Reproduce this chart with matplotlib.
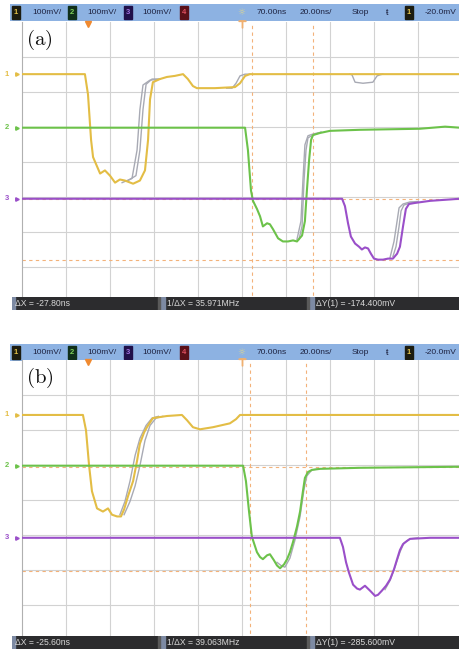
import matplotlib.pyplot as plt
from matplotlib.patches import Rectangle

plt.rcParams['mathtext.fontset'] = 'cm'
plt.rcParams['font.family'] = ['Liberation Sans', 'DejaVu Sans']

W, H = 460, 657

# time axis: ns from left screen edge (20 ns/div); level: mV (100 mV/div)
# ---------------- panel (a) ----------------
a_ch1_t = [0, 28.6, 30.0, 31.4, 32.3, 35.5, 37.7, 40.0, 42.3, 44.5, 46.8, 50.5, 53.6, 55.9, 57.3, 58.2,
           59.5, 62.7, 65.9, 69.5, 73.2, 75.4, 77.7, 79.5, 87.7, 96.8, 99.1, 101.4, 103.6, 199.1]
a_ch1_v = [246, 246, 188, 58, 9, -38, -29, -44, -64, -55, -58, -67, -58, -29, 58, 174,
           223, 232, 238, 241, 246, 232, 212, 206, 206, 209, 220, 241, 246, 246]
a_ch2_t = [0, 101.4, 102.7, 104.1, 105.0, 106.8, 108.2, 109.5, 111.4, 112.7, 114.1, 116.4, 118.6, 120.9,
           123.2, 125.0, 127.3, 128.6, 129.5, 130.5, 131.4, 132.3, 135.5, 140.0, 153.6, 180.9, 192.3, 199.1]
a_ch2_v = [93, 93, 29, -87, -116, -139, -160, -189, -180, -183, -197, -223, -232, -232,
           -229, -232, -215, -174, -87, 0, 58, 72, 78, 84, 87, 90, 96, 93]
a_ch3_t = [0, 145.5, 146.8, 148.2, 149.5, 151.4, 153.2, 154.5, 155.9, 157.3, 158.6, 160.0, 161.8, 164.1,
           166.4, 168.6, 170.5, 171.8, 173.2, 174.5, 175.9, 178.6, 185.5, 199.1]
a_ch3_v = [-110, -110, -131, -180, -218, -238, -247, -255, -249, -252, -267, -281, -284, -284,
           -281, -281, -267, -247, -189, -139, -125, -122, -116, -110]

# earlier acquisitions (grey persistence), only where they part from the live trace
a_ghost_t = [
    [48.2, 51.8, 53.6, 55.0, 56.4, 59.1, 62.7],
    [45.5, 50.0, 52.3, 53.6, 55.0, 58.2, 62.7],
    [93.0, 95.5, 97.3, 99.1, 101.4, 104.0],
    [149.1, 150.0, 151.4, 155.0, 159.5, 161.4, 162.7, 164.0],
    [125.9, 127.3, 128.2, 129.1, 130.0, 132.3, 135.9],
    [125.0, 126.8, 127.7, 128.6, 130.0, 132.3, 135.9],
    [168.6, 170.0, 171.4, 172.3, 173.6, 176.4, 180.0],
    [167.3, 169.1, 170.5, 171.4, 173.2, 176.4, 180.0],
]
a_ghost_v = [
    [-58, -44, 29, 145, 217, 232, 232],
    [-64, -52, 29, 145, 215, 229, 232],
    [206, 206, 220, 241, 246, 246],
    [246, 244, 223, 220, 223, 241, 244, 246],
    [-226, -189, -58, 29, 64, 72, 80],
    [-226, -174, -58, 44, 70, 75, 80],
    [-275, -247, -189, -145, -128, -122, -120],
    [-278, -232, -174, -136, -125, -119, -118],
]
a_cursor_x = [104.5, 132.3]
a_cursor_y = [-110.0, -284.4]
a_screen_mv = (-405, 395)
a_readout = ['\u0394X = -27.80ns', '1/\u0394X = 35.971MHz', '\u0394Y(1) = -174.400mV']

# ---------------- panel (b) ----------------
b_ch1_t = [0, 27.7, 29.1, 30.5, 31.8, 34.1, 36.8, 39.1, 40.9, 43.2, 45.0, 46.4, 48.2, 50.5, 52.3, 53.6,
           55.5, 56.8, 59.5, 65.9, 72.7, 75.0, 77.7, 80.9, 86.8, 94.5, 97.3, 99.1, 199.1]
b_ch1_v = [244, 244, 200, 99, 26, -23, -32, -23, -41, -46, -46, -26, 12, 55, 113, 162,
           194, 209, 235, 241, 244, 229, 209, 203, 209, 220, 232, 244, 244]
b_ch2_t = [0, 100.5, 101.8, 103.2, 104.5, 106.8, 108.2, 109.5, 111.4, 112.7, 114.5, 115.9, 117.3, 119.1,
           120.5, 121.8, 123.2, 125.0, 126.4, 127.7, 128.6, 130.0, 131.8, 135.5, 153.6, 199.1]
b_ch2_v = [99, 99, 55, -32, -104, -148, -162, -168, -157, -154, -171, -186, -194, -183,
           -168, -148, -119, -75, -32, 26, 64, 81, 87, 90, 93, 96]
b_ch3_t = [0, 144.5, 145.9, 147.3, 148.6, 150.5, 152.3, 153.6, 155.9, 158.2, 160.5, 161.8, 163.6, 165.5,
           167.3, 169.1, 170.5, 171.8, 173.2, 175.0, 176.4, 185.5, 199.1]
b_ch3_v = [-107, -107, -133, -177, -206, -241, -252, -255, -244, -258, -273, -270, -258, -244,
           -226, -197, -168, -142, -125, -116, -110, -107, -107]

b_ghost_t = [
    [44.5, 46.8, 49.1, 51.4, 53.6, 56.4, 59.1, 62.0],
    [46.4, 49.1, 51.4, 53.6, 55.9, 58.2, 60.9, 64.0],
    [115.9, 117.7, 119.5, 121.8, 124.1, 126.4, 128.2, 129.5, 131.8, 135.0],
    [165.0, 167.3, 169.5, 171.8, 173.6, 176.4, 180.0],
]
b_ghost_v = [
    [-41, -3, 55, 128, 177, 214, 235, 240],
    [-41, -3, 41, 99, 171, 214, 235, 240],
    [-177, -186, -191, -165, -113, -46, 32, 70, 87, 90],
    [-255, -229, -191, -148, -122, -110, -107],
]
b_cursor_x = [103.6, 129.2]
b_cursor_y = [95.0, -203.0]
b_screen_mv = (-399, 401)
b_readout = ['\u0394X = -25.60ns', '1/\u0394X = 39.063MHz', '\u0394Y(1) = -285.600mV']

# header readouts (same on both screens)
ch_scale = ['100mV/', '100mV/', '100mV/']
time_ref = '70.00ns'
time_scale = '20.00ns/'
run_state = 'Stop'
trig_level = '-20.0mV'

ch_colors = ['#e3bd45', '#6cc24a', '#9a4fc9']
ghost_color = '#a8aab4'
grid_color = '#d2d2d2'
cursor_color = '#f3b27a'

fig = plt.figure(figsize=(W / 100, H / 100), dpi=100)


def px_axes(x0, y0, w, h):
    # axes placed by pixel box (top-left origin)
    return fig.add_axes([x0 / W, 1 - (y0 + h) / H, w / W, h / H])


def bare(ax):
    ax.set_xticks([])
    ax.set_yticks([])
    for s in ax.spines.values():
        s.set_visible(False)


def header(y0):
    ax = px_axes(10, y0, 450, 17)
    ax.set_xlim(10, 460)
    ax.set_ylim(0, 1)
    ax.set_facecolor('#8db2e2')
    bare(ax)
    boxes = [(12, '1', '#1c1c10', '#e3c24a'), (68, '2', '#10301a', '#7fd25a'),
             (124, '3', '#20104a', '#a070e0'), (180, '4', '#5a1018', '#e05060'),
             (405, '1', '#1c1c10', '#e3c24a')]
    for bx, lab, fc, tc in boxes:
        ax.add_patch(Rectangle((bx, 0.12), 8, 0.76, color=fc))
        ax.text(bx + 4, 0.5, lab, color=tc, fontsize=5.5, ha='center', va='center', weight='bold')
    tc = '#1d2240'
    for xx, s in zip([32, 87, 142], ch_scale):
        ax.text(xx, 0.5, s, fontsize=6, color=tc, va='center')
    ax.text(241, 0.5, '\u263c', fontsize=6.5, color='#e0d890', ha='center', va='center',
            family=['DejaVu Sans'])
    ax.text(257, 0.5, time_ref, fontsize=6, color=tc, va='center')
    ax.text(300, 0.5, time_scale, fontsize=6, color=tc, va='center')
    ax.text(352, 0.5, run_state, fontsize=6, color=tc, va='center')
    ax.text(387, 0.5, '\u0167', fontsize=6.5, color=tc, va='center', ha='center')
    ax.text(425, 0.5, trig_level, fontsize=6, color=tc, va='center')


def footer(y0, texts):
    ax = px_axes(12, y0, 447, 13)
    ax.set_xlim(12, 459)
    ax.set_ylim(0, 1)
    ax.set_facecolor('#2c2c2e')
    bare(ax)
    for sx in [12, 160, 309]:
        ax.add_patch(Rectangle((sx, 0), 3 if sx == 12 else 5, 1, color='#7d8aa3'))
    for sx in [158, 307]:
        ax.add_patch(Rectangle((sx, 0), 2, 1, color='#5a5a5a'))
    for xx, s in zip([15, 167, 316], texts):
        ax.text(xx, 0.48, s, fontsize=6.2, color='#d8d8d8', va='center')


def screen(y0, traces, ghosts_t, ghosts_v, cx, cy, ylim, label):
    ax = px_axes(22, y0, 438, 280)
    ax.set_xlim(0, 199.1)
    ax.set_ylim(*ylim)
    bare(ax)
    ax.spines['left'].set_visible(True)
    ax.spines['left'].set_color('#b0b0b0')
    for gx in range(20, 200, 20):
        ax.axvline(gx, color=grid_color, lw=0.8, zorder=1)
    for k in range(1, 8):
        ax.axhline(ylim[0] + 100 * k, color=grid_color, lw=0.8, zorder=1)
    for xx in cx:
        ax.axvline(xx, color=cursor_color, lw=0.8, ls=(0, (3, 3)), zorder=2)
    for yy in cy:
        ax.axhline(yy, color=cursor_color, lw=0.8, ls=(0, (3, 3)), zorder=2)
    for gt, gv in zip(ghosts_t, ghosts_v):
        ax.plot(gt, gv, color=ghost_color, lw=1.0, zorder=3)
    for i, (t, v) in enumerate(traces):
        ax.plot(t, v, color=ch_colors[i], lw=1.5, zorder=4, solid_joinstyle='round')
        ax.text(-8, v[0], str(i + 1), color=ch_colors[i], fontsize=5.5, va='center',
                ha='left', clip_on=False, weight='bold')
        ax.plot([-2.5], [v[0]], marker='>', ms=2.5, color=ch_colors[i], clip_on=False)
    top = ylim[1]
    ax.plot([30], [top - 5], marker='v', ms=4, color='#f08a30', clip_on=False, zorder=6)
    ax.plot([100], [top - 7], marker='$\\top$', ms=5, color='#f0b070', clip_on=False, zorder=6)
    ax.text(1.8, top - 50, '$\\mathrm{(' + label + ')}$', fontsize=15, va='center', ha='left',
            color='#111111', zorder=7)


header(4)
screen(22, [(a_ch1_t, a_ch1_v), (a_ch2_t, a_ch2_v), (a_ch3_t, a_ch3_v)],
       a_ghost_t, a_ghost_v, a_cursor_x, a_cursor_y, a_screen_mv, 'a')
footer(297, a_readout)

header(344)
screen(360, [(b_ch1_t, b_ch1_v), (b_ch2_t, b_ch2_v), (b_ch3_t, b_ch3_v)],
       b_ghost_t, b_ghost_v, b_cursor_x, b_cursor_y, b_screen_mv, 'b')
footer(636, b_readout)

fig.savefig('out.png', dpi=100)
